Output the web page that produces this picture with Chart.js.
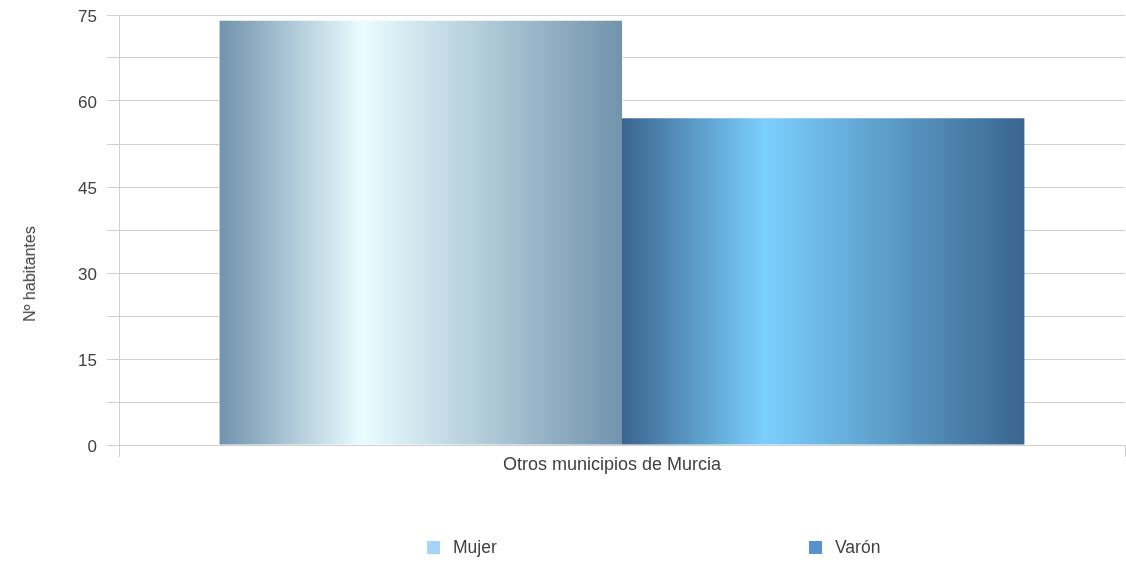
<!DOCTYPE html>
<html>
<head>
<meta charset="utf-8">
<script src="https://cdn.jsdelivr.net/npm/chart.js@4/dist/chart.umd.min.js"></script>
<style>
  body { margin: 0; background: #fff; font-family: "Liberation Sans", Arial, sans-serif; }
  #wrap { position: relative; width: 1126px; height: 564px; }
  .leg { position: absolute; top: 537px; font-size: 17.5px; color: #404040; line-height: 20px; }
  .leg span { display: inline-block; width: 13px; height: 13px; vertical-align: -1px; margin-right: 13px; }
  #tituloY { position: absolute; left: 30px; top: 274px; transform: translate(-50%, -50%) rotate(-90deg);
             white-space: nowrap; font-size: 16px; color: #404040; }
</style>
</head>
<body>
<div id="wrap">
  <canvas id="poblacionChart"></canvas>
  <div id="tituloY">Nº habitantes</div>
  <div class="leg" style="left:427px"><span style="background:#a5d5f6"></span>Mujer</div>
  <div class="leg" style="left:809px"><span style="background:#5592ce"></span>Varón</div>
</div>
<script>
// datos del gráfico
const categorias = ['Otros municipios de Murcia'];
const mujer = [74];
const varon = [57];
const etiquetasY = [0, 15, 30, 45, 60, 75];

// degradado horizontal de cada barra: borde, claro, borde
function degradado(borde, claro) {
    return function(context) {
        const chart = context.chart;
        const x = chart.scales.x;
        if (!chart.chartArea || !x) return borde;
        const catW = (x.right - x.left) / categorias.length;
        const barW = catW * 0.8 / 2;
        const left = x.getPixelForValue(context.dataIndex) - catW * 0.4 + context.datasetIndex * barW;
        const g = chart.ctx.createLinearGradient(left, 0, left + barW, 0);
        g.addColorStop(0, borde);
        g.addColorStop(0.355, claro);
        g.addColorStop(1, borde);
        return g;
    };
}

const ctx = document.getElementById('poblacionChart').getContext('2d');
const poblacionChart = new Chart(ctx, {
    type: 'bar',
    data: {
        labels: categorias,
        datasets: [{
            label: 'Mujer',
            data: mujer,
            backgroundColor: degradado('#7193ad', '#eafdff'),
            borderWidth: 0
        }, {
            label: 'Varón',
            data: varon,
            backgroundColor: degradado('#3a658f', '#7bcffd'),
            borderWidth: 0
        }]
    },
    options: {
        responsive: true,
        maintainAspectRatio: false,
        animation: false,
        layout: { padding: { left: 18, top: 15, right: 1, bottom: 79 } },
        datasets: { bar: { categoryPercentage: 0.8, barPercentage: 1.0 } },
        scales: {
            x: {
                grid: { offset: true, drawOnChartArea: false, color: '#d0d0d0', tickLength: 12 },
                border: { color: '#d0d0d0' },
                ticks: { color: '#404040', padding: -3, labelOffset: -10, font: { family: 'Liberation Sans', size: 18 } },
                afterFit: function(scale) {
                    scale.height = 40;
                    scale.paddingLeft = 0;
                    scale.paddingRight = 0;
                }
            },
            y: {
                min: 0,
                max: 75,
                grid: { color: '#d0d0d0', tickLength: 12 },
                border: { color: '#d0d0d0' },
                ticks: {
                    stepSize: 7.5,
                    autoSkip: false,
                    padding: 10,
                    labelOffset: 2,
                    color: '#404040',
                    font: { family: 'Liberation Sans', size: 17 },
                    callback: function(value) {
                        return etiquetasY.includes(value) ? value : '';
                    }
                },
                afterFit: function(scale) {
                    scale.width = 101;
                    scale.paddingTop = 0;
                    scale.paddingBottom = 0;
                }
            }
        },
        plugins: {
            legend: { display: false },
            tooltip: { enabled: false }
        }
    }
});
</script>
</body>
</html>
